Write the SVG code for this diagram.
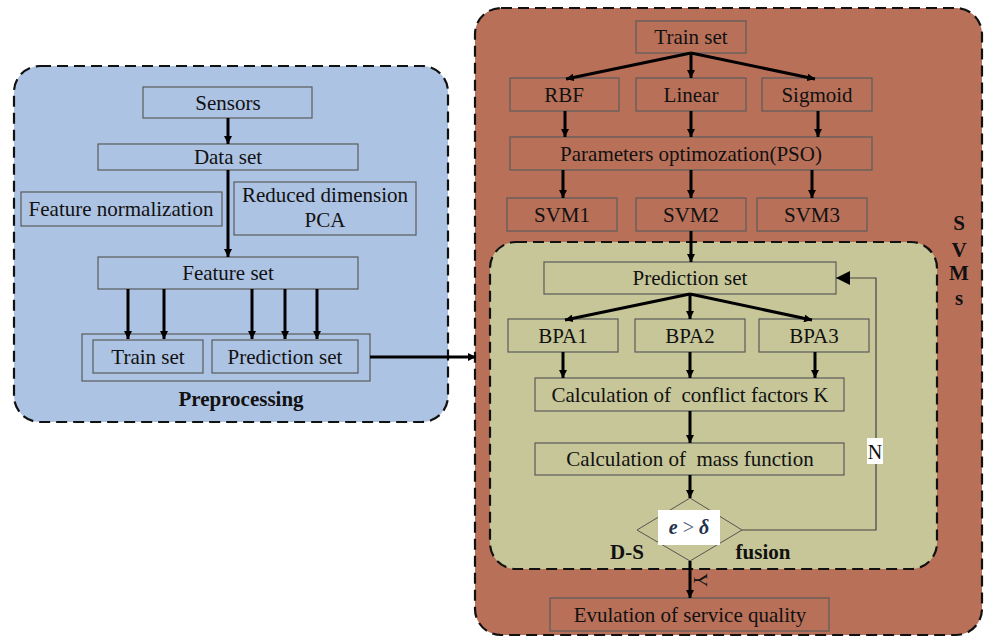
<svg xmlns="http://www.w3.org/2000/svg" width="986" height="638" viewBox="0 0 986 638">
<defs>
<style>
.t{font-family:"Liberation Serif","Times New Roman",serif;font-size:21px;fill:#111;text-anchor:middle}
.b{font-weight:bold}
.box{stroke:#5a5a5a;stroke-width:1.2;fill:none}
.ar{stroke:#000;stroke-width:3;fill:none;marker-end:url(#ah)}
.panel{stroke:#111;stroke-width:2.2;stroke-dasharray:11 6}
</style>
<marker id="ah" viewBox="0 0 10 10" refX="10" refY="5" markerWidth="8" markerHeight="8" markerUnits="userSpaceOnUse" orient="auto">
<path d="M0,0 L10,5 L0,10 Z" fill="#000"/>
</marker>
<marker id="ah2" viewBox="0 0 10 10" refX="10" refY="5" markerWidth="14" markerHeight="14" markerUnits="userSpaceOnUse" orient="auto">
<path d="M0,0 L10,5 L0,10 Z" fill="#000"/>
</marker>
</defs>
<rect width="986" height="638" fill="#fff"/>

<g id="panel-preprocessing">
<rect class="panel" x="14" y="66" width="434" height="356" rx="26" fill="#ADC3E3"/>
<text class="t b" x="241" y="406">Preprocessing</text>
</g>
<g id="panel-svms">
<rect class="panel" x="475" y="8" width="507" height="627" rx="26" fill="#B87059"/>
<text class="t b" x="959" y="230">S</text>
<text class="t b" x="959" y="257">V</text>
<text class="t b" x="959" y="280">M</text>
<text class="t b" x="959" y="305">s</text>
</g>
<g id="panel-ds">
<rect class="panel" x="490" y="242" width="447" height="327" rx="26" fill="#C6C698"/>
<text class="t b" x="627" y="559">D-S</text>
<text class="t b" x="763" y="559">fusion</text>
</g>

<g id="n-sensors"><rect class="box" x="143" y="87" width="169" height="31"/><text class="t" x="228" y="110">Sensors</text></g>
<g id="n-dataset"><rect class="box" x="98" y="144" width="260" height="26"/><text class="t" x="228" y="164">Data set</text></g>
<g id="n-featnorm"><rect class="box" x="21" y="192" width="201" height="34"/><text class="t" x="121" y="216">Feature normalization</text></g>
<g id="n-reduced"><rect class="box" x="234" y="182" width="182" height="53"/><text class="t" x="325" y="202">Reduced dimension</text><text class="t" x="325" y="227">PCA</text></g>
<g id="n-featset"><rect class="box" x="98" y="257" width="260" height="32"/><text class="t" x="228" y="280">Feature set</text></g>
<g id="n-split"><rect class="box" x="82" y="334" width="288" height="47"/></g>
<g id="n-trainset-l"><rect class="box" x="93" y="340" width="110" height="33"/><text class="t" x="148" y="364">Train set</text></g>
<g id="n-predset-l"><rect class="box" x="212" y="340" width="146" height="33"/><text class="t" x="285" y="364">Prediction set</text></g>

<g id="n-trainset-r"><rect class="box" x="636" y="21" width="110" height="32"/><text class="t" x="691" y="44">Train set</text></g>
<g id="n-rbf"><rect class="box" x="510" y="78" width="109" height="33"/><text class="t" x="564" y="102">RBF</text></g>
<g id="n-linear"><rect class="box" x="636" y="78" width="110" height="33"/><text class="t" x="691" y="102">Linear</text></g>
<g id="n-sigmoid"><rect class="box" x="762" y="78" width="110" height="33"/><text class="t" x="817" y="102">Sigmoid</text></g>
<g id="n-pso"><rect class="box" x="510" y="137" width="362" height="33"/><text class="t" x="691" y="161">Parameters optimozation(PSO)</text></g>
<g id="n-svm1"><rect class="box" x="507" y="198" width="110" height="33"/><text class="t" x="562" y="222">SVM1</text></g>
<g id="n-svm2"><rect class="box" x="636" y="198" width="110" height="33"/><text class="t" x="691" y="222">SVM2</text></g>
<g id="n-svm3"><rect class="box" x="757" y="198" width="110" height="33"/><text class="t" x="812" y="222">SVM3</text></g>

<g id="n-predset-r"><rect class="box" x="544" y="262" width="292" height="32"/><text class="t" x="690" y="285">Prediction set</text></g>
<g id="n-bpa1"><rect class="box" x="508" y="319" width="110" height="33"/><text class="t" x="563" y="343">BPA1</text></g>
<g id="n-bpa2"><rect class="box" x="635" y="319" width="110" height="33"/><text class="t" x="690" y="343">BPA2</text></g>
<g id="n-bpa3"><rect class="box" x="759" y="319" width="110" height="33"/><text class="t" x="814" y="343">BPA3</text></g>
<g id="n-conflict"><rect class="box" x="535" y="378" width="309" height="33"/><text class="t" x="690" y="402" xml:space="preserve">Calculation of  conflict factors K</text></g>
<g id="n-mass"><rect class="box" x="535" y="443" width="309" height="32"/><text class="t" x="690" y="466" xml:space="preserve">Calculation of  mass function</text></g>
<g id="n-decision">
<path d="M690,498 L742,530 L690,561 L637,530 Z" fill="none" stroke="#555" stroke-width="1"/>
<rect x="658" y="510" width="62" height="35" fill="#fff"/>
<text class="t b" x="689" y="534" style="font-style:italic;font-size:20px;fill:#24314a"><tspan>e</tspan><tspan fill="#4b5a78" font-style="normal" font-weight="normal"> &gt; </tspan><tspan>δ</tspan></text>
</g>
<g id="n-eval"><rect class="box" x="550" y="598" width="279" height="33"/><text class="t" x="690" y="622">Evulation of service quality</text></g>

<g id="connectors">
<line class="ar" x1="228" y1="118" x2="228" y2="144"/>
<line class="ar" x1="228" y1="170" x2="228" y2="257"/>
<line class="ar" x1="128" y1="289" x2="128" y2="339"/>
<line class="ar" x1="164" y1="289" x2="164" y2="339"/>
<line class="ar" x1="252" y1="289" x2="252" y2="339"/>
<line class="ar" x1="285" y1="289" x2="285" y2="339"/>
<line class="ar" x1="317" y1="289" x2="317" y2="339"/>
<line class="ar" x1="370" y1="357" x2="476" y2="357"/>

<line class="ar" x1="691" y1="53" x2="566" y2="79"/>
<line class="ar" x1="691" y1="53" x2="691" y2="78"/>
<line class="ar" x1="691" y1="53" x2="815" y2="79"/>
<line class="ar" x1="565" y1="111" x2="565" y2="137"/>
<line class="ar" x1="691" y1="111" x2="691" y2="137"/>
<line class="ar" x1="818" y1="111" x2="818" y2="137"/>
<line class="ar" x1="563" y1="170" x2="563" y2="198"/>
<line class="ar" x1="691" y1="170" x2="691" y2="198"/>
<line class="ar" x1="812" y1="170" x2="812" y2="198"/>
<line class="ar" x1="691" y1="231" x2="691" y2="262"/>

<line class="ar" x1="690" y1="294" x2="565" y2="320"/>
<line class="ar" x1="690" y1="294" x2="690" y2="319"/>
<line class="ar" x1="690" y1="294" x2="812" y2="320"/>
<line class="ar" x1="563" y1="352" x2="563" y2="378"/>
<line class="ar" x1="690" y1="352" x2="690" y2="378"/>
<line class="ar" x1="815" y1="352" x2="815" y2="378"/>
<line class="ar" x1="690" y1="411" x2="690" y2="443"/>
<line class="ar" x1="690" y1="475" x2="690" y2="498"/>
<line class="ar" x1="690" y1="561" x2="690" y2="598"/>
<path d="M742,530 L876,530 L876,278 L836,278" fill="none" stroke="#444" stroke-width="1.2" marker-end="url(#ah2)"/>
<rect x="867" y="438" width="16" height="26" fill="#fff"/>
<text class="t" x="875" y="459" style="font-size:20px">N</text>
<text class="t" x="0" y="0" style="font-size:19px" transform="translate(694,580) rotate(90)">Y</text>
</g>
</svg>
